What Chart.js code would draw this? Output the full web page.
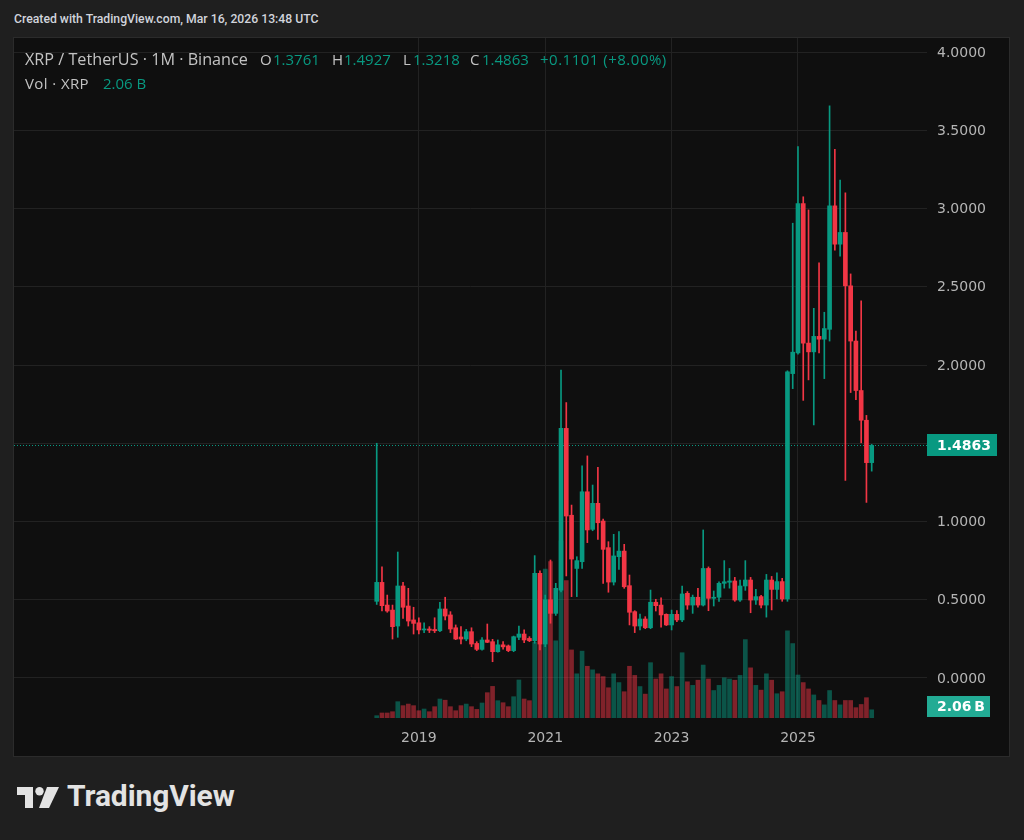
<!DOCTYPE html>
<html>
<head>
<meta charset="utf-8">
<script src="https://cdn.jsdelivr.net/npm/chart.js@4.4.1/dist/chart.umd.min.js"></script>
<style>
  body { margin:0; width:1024px; height:840px; overflow:hidden; background:#1f1f1f; font-family:Roboto, sans-serif; }
  #head { position:absolute; left:14px; top:10px; font-size:13px; font-weight:500; line-height:18px; color:#d1d4dc; transform:scaleX(0.94); transform-origin:left center; white-space:nowrap; }
  #panel { position:absolute; left:13px; top:37px; width:997px; height:720px; box-sizing:border-box; border:1px solid #2b2b2b; background:#0f0f0f; }
  #chart { position:absolute; left:14px; top:38px; }
  .lg { position:absolute; font-family:"Open Sans", sans-serif; font-size:15px; line-height:18px; color:#c3c3c3; white-space:nowrap; }
  .lg.t { font-size:16.2px; }
  .lg.v { color:#089981; }
  #logo { position:absolute; left:17px; top:787px; }
  #logoText { position:absolute; left:67px; top:778px; font-size:30px; font-weight:700; color:#e3e3e3; letter-spacing:-0.1px; }
</style>
</head>
<body>
<div id="head">Created with TradingView.com, Mar 16, 2026 13:48 UTC</div>
<div id="panel"></div>
<canvas id="chart" width="995" height="718"></canvas>

<div class="lg t" style="left:25px;top:50px">XRP / TetherUS · 1M · Binance</div>
<div class="lg" style="left:260px;top:50px">O</div><div class="lg v" style="left:273px;top:50px">1.3761</div>
<div class="lg" style="left:332px;top:50px">H</div><div class="lg v" style="left:344px;top:50px">1.4927</div>
<div class="lg" style="left:403px;top:50px">L</div><div class="lg v" style="left:413px;top:50px">1.3218</div>
<div class="lg" style="left:470px;top:50px">C</div><div class="lg v" style="left:482px;top:50px">1.4863</div>
<div class="lg v" style="left:540px;top:50px;letter-spacing:0.5px">+0.1101 (+8.00%)</div>
<div class="lg" style="left:25px;top:74px;letter-spacing:0.4px">Vol · XRP</div><div class="lg v" style="left:103px;top:74px">2.06 B</div>

<svg id="logo" width="42" height="22" viewBox="0 0 42 22">
  <path d="M0 0 H16 V21 H8 V8 H0 Z" fill="#e3e3e3"/>
  <circle cx="22.5" cy="4.2" r="4.2" fill="#e3e3e3"/>
  <path d="M30 0 H42 L32 21 H22 Z" fill="#e3e3e3"/>
</svg>
<div id="logoText">TradingView</div>

<script>
// monthly candles, XRP/USDT Binance
const months = [
  '2018-05','2018-06','2018-07','2018-08','2018-09','2018-10','2018-11','2018-12',
  '2019-01','2019-02','2019-03','2019-04','2019-05','2019-06','2019-07','2019-08','2019-09','2019-10','2019-11','2019-12',
  '2020-01','2020-02','2020-03','2020-04','2020-05','2020-06','2020-07','2020-08','2020-09','2020-10','2020-11','2020-12',
  '2021-01','2021-02','2021-03','2021-04','2021-05','2021-06','2021-07','2021-08','2021-09','2021-10','2021-11','2021-12',
  '2022-01','2022-02','2022-03','2022-04','2022-05','2022-06','2022-07','2022-08','2022-09','2022-10','2022-11','2022-12',
  '2023-01','2023-02','2023-03','2023-04','2023-05','2023-06','2023-07','2023-08','2023-09','2023-10','2023-11','2023-12',
  '2024-01','2024-02','2024-03','2024-04','2024-05','2024-06','2024-07','2024-08','2024-09','2024-10','2024-11','2024-12',
  '2025-01','2025-02','2025-03','2025-04','2025-05','2025-06','2025-07','2025-08','2025-09','2025-10','2025-11','2025-12',
  '2026-01','2026-02','2026-03'
];

const opens = [
  0.49, 0.611, 0.466, 0.434, 0.332, 0.588, 0.46, 0.371,
  0.353, 0.307, 0.313, 0.31, 0.302, 0.441, 0.403, 0.321, 0.262, 0.249, 0.296, 0.221,
  0.183, 0.243, 0.232, 0.168, 0.212, 0.205, 0.175, 0.26, 0.281, 0.253, 0.238, 0.669,
  0.217, 0.50, 0.413, 0.562, 1.595, 1.04, 0.70, 0.743, 1.19, 0.95, 1.116, 1.003,
  0.833, 0.613, 0.775, 0.811, 0.59, 0.424, 0.332, 0.377, 0.321, 0.484, 0.466, 0.407,
  0.339, 0.407, 0.371, 0.541, 0.466, 0.516, 0.466, 0.70, 0.509, 0.516, 0.605, 0.612,
  0.62, 0.498, 0.588, 0.626, 0.498, 0.52, 0.466, 0.626, 0.566, 0.616, 0.505, 1.945,
  2.077, 3.032, 2.14, 2.084, 2.183, 2.165, 2.228, 3.017, 2.772, 2.847, 2.506, 2.153,
  1.837, 1.647, 1.3761
];
const highs = [
  1.50, 0.711, 0.53, 0.466, 0.805, 0.611, 0.573, 0.452,
  0.385, 0.353, 0.328, 0.385, 0.484, 0.516, 0.424, 0.339, 0.328, 0.311, 0.321, 0.232,
  0.258, 0.345, 0.247, 0.243, 0.232, 0.211, 0.268, 0.332, 0.307, 0.264, 0.782, 0.684,
  0.53, 0.754, 0.605, 1.968, 1.76, 1.105, 0.775, 1.355, 1.419, 1.233, 1.346, 1.016,
  0.871, 0.918, 0.935, 0.854, 0.658, 0.43, 0.409, 0.392, 0.562, 0.503, 0.513, 0.41,
  0.434, 0.43, 0.588, 0.552, 0.53, 0.573, 0.946, 0.71, 0.556, 0.615, 0.75, 0.70,
  0.643, 0.626, 0.75, 0.643, 0.566, 0.528, 0.662, 0.649, 0.672, 0.637, 1.963, 2.906,
  3.396, 3.075, 2.991, 2.362, 2.653, 2.337, 3.656, 3.378, 3.181, 3.10, 2.582, 2.216,
  2.41, 1.678, 1.4927
];
const lows = [
  0.47, 0.428, 0.42, 0.249, 0.26, 0.381, 0.332, 0.281,
  0.281, 0.29, 0.29, 0.29, 0.296, 0.371, 0.29, 0.245, 0.217, 0.238, 0.200, 0.175,
  0.178, 0.226, 0.104, 0.165, 0.185, 0.168, 0.168, 0.245, 0.226, 0.232, 0.222, 0.179,
  0.20, 0.35, 0.40, 0.55, 0.652, 0.52, 0.52, 0.70, 0.865, 0.941, 0.886, 0.605,
  0.548, 0.594, 0.694, 0.573, 0.339, 0.29, 0.307, 0.315, 0.315, 0.428, 0.324, 0.335,
  0.307, 0.36, 0.36, 0.439, 0.413, 0.452, 0.46, 0.43, 0.46, 0.49, 0.574, 0.574,
  0.49, 0.49, 0.56, 0.417, 0.47, 0.447, 0.389, 0.435, 0.505, 0.49, 0.49, 1.849,
  2.07, 1.774, 1.905, 1.617, 2.077, 1.913, 2.153, 2.734, 2.696, 1.263, 1.824, 1.779,
  1.503, 1.122, 1.3218
];
const closes = [
  0.611, 0.462, 0.428, 0.328, 0.588, 0.452, 0.364, 0.349,
  0.307, 0.313, 0.305, 0.302, 0.441, 0.396, 0.313, 0.249, 0.249, 0.296, 0.217, 0.183,
  0.243, 0.228, 0.168, 0.212, 0.199, 0.175, 0.264, 0.281, 0.243, 0.238, 0.669, 0.217,
  0.50, 0.413, 0.573, 1.595, 1.035, 0.76, 0.75, 1.19, 0.946, 1.116, 0.992, 0.822,
  0.613, 0.78, 0.811, 0.583, 0.42, 0.332, 0.377, 0.321, 0.484, 0.462, 0.403, 0.339,
  0.407, 0.371, 0.537, 0.466, 0.516, 0.466, 0.70, 0.509, 0.516, 0.605, 0.615, 0.62,
  0.498, 0.588, 0.626, 0.498, 0.52, 0.466, 0.626, 0.566, 0.616, 0.505, 1.956, 2.082,
  3.032, 2.14, 2.084, 2.183, 2.165, 2.233, 3.017, 2.772, 2.847, 2.506, 2.153, 1.837,
  1.647, 1.3761, 1.4863
];
// volume in billions of XRP
const volumes = [
  0.58, 1.26, 1.26, 1.58, 4.1, 3.1, 3.5, 3.1,
  1.83, 2.26, 1.58, 2.84, 4.77, 4.47, 2.84, 1.83, 3.1, 3.5, 2.84, 2.16,
  3.77, 6.36, 7.94, 4.35, 3.84, 2.84, 5.35, 9.55, 4.77, 4.35, 19.0, 32.0,
  37.4, 39.3, 19.4, 44.5, 34.5, 17.1, 11.1, 16.8, 13.0, 12.1, 11.1, 10.4,
  7.6, 11.1, 8.9, 6.6, 13.0, 10.7, 7.9, 6.0, 13.9, 9.8, 11.1, 7.3,
  10.4, 7.9, 16.4, 9.1, 8.2, 9.5, 13.3, 9.8, 6.9, 8.2, 10.1, 9.8,
  9.5, 10.7, 19.7, 12.6, 8.2, 7.0, 11.1, 9.5, 6.1, 6.6, 21.9, 18.7,
  10.8, 8.9, 7.3, 5.8, 4.4, 3.3, 6.9, 4.4, 3.3, 4.4, 4.4, 2.6,
  3.4, 5.1, 2.06
];

const yearTicks = ['2019-01', '2021-01', '2023-01', '2025-01'];
const yearLabels = ['2019', '2021', '2023', '2025'];
const priceTicks = [0, 0.5, 1, 1.5, 2, 2.5, 3, 3.5, 4];

const GREEN = '#089981';
const RED = '#f23645';
const AXIS_FONT = { family: 'DejaVu Sans', size: 14 };

const isUp = closes.map((c, i) => c >= opens[i]);
const candleColors = isUp.map(u => u ? GREEN : RED);
const volColors = isUp.map(u => u ? 'rgba(8,153,129,0.5)' : 'rgba(242,54,69,0.5)');
const lastClose = closes[closes.length - 1];
const lastVol = volumes[volumes.length - 1];

const yearIdx = yearTicks.map(m => months.indexOf(m));

// no label overflow padding, the plot fills the canvas up to the axes
function noPad(axis) {
    axis.paddingTop = 0;
    axis.paddingBottom = 0;
    axis.paddingLeft = 0;
    axis.paddingRight = 0;
}

// last price line + axis badges
const lastPricePlugin = {
    id: 'lastPrice',
    beforeDatasetsDraw(chart) {
        const { ctx, chartArea, scales } = chart;
        const y = Math.round(scales.y.getPixelForValue(lastClose)) + 0.5;
        ctx.save();
        ctx.strokeStyle = GREEN;
        ctx.lineWidth = 1;
        ctx.setLineDash([1, 2]);
        ctx.beginPath();
        ctx.moveTo(chartArea.left, y);
        ctx.lineTo(chartArea.right, y);
        ctx.stroke();
        ctx.restore();
    },
    afterDraw(chart) {
        const { ctx, chartArea, scales } = chart;
        const x0 = chartArea.right;
        ctx.save();
        ctx.textBaseline = 'middle';
        ctx.textAlign = 'left';
        ctx.font = 'bold 14px "DejaVu Sans"';

        const yp = scales.y.getPixelForValue(lastClose);
        ctx.fillStyle = GREEN;
        ctx.fillRect(x0, Math.round(yp) - 11, 70, 22);
        ctx.fillStyle = '#ffffff';
        ctx.fillText(lastClose.toFixed(4), x0 + 10, Math.round(yp) + 1);

        let yv = scales.vol.getPixelForValue(lastVol);
        yv = Math.min(yv, chartArea.bottom - 12);
        ctx.fillStyle = '#22ab94';
        ctx.fillRect(x0, Math.round(yv) - 10, 63, 21);
        ctx.fillStyle = '#ffffff';
        ctx.fillText(lastVol.toFixed(2) + '\u2009B', x0 + 10, Math.round(yv) + 1);
        ctx.restore();
    }
};

const ctx = document.getElementById('chart').getContext('2d');
new Chart(ctx, {
    type: 'bar',
    data: {
        datasets: [
            {
                label: 'body',
                data: months.map((m, i) => ({ x: i, y: [opens[i], closes[i]] })),
                backgroundColor: candleColors,
                barThickness: 4,
                minBarLength: 1,
                yAxisID: 'y',
                order: 1
            },
            {
                label: 'wick',
                data: months.map((m, i) => ({ x: i, y: [lows[i], highs[i]] })),
                backgroundColor: candleColors,
                barThickness: 1,
                yAxisID: 'y',
                order: 2
            },
            {
                label: 'volume',
                data: months.map((m, i) => ({ x: i, y: volumes[i] })),
                backgroundColor: volColors,
                barThickness: 4,
                yAxisID: 'vol',
                order: 3
            }
        ]
    },
    options: {
        responsive: false,
        animation: false,
        devicePixelRatio: 1,
        layout: { padding: 0 },
        datasets: { bar: { grouped: false, borderWidth: 0 } },
        plugins: { legend: { display: false }, tooltip: { enabled: false } },
        scales: {
            x: {
                type: 'linear',
                min: -68.88,
                max: 104.5,
                offset: false,
                grid: { color: '#222222', drawTicks: false, offset: false },
                border: { display: false },
                afterBuildTicks: axis => { axis.ticks = yearIdx.map(v => ({ value: v })); },
                ticks: {
                    color: '#b5b5b5',
                    font: AXIS_FONT,
                    padding: 12,
                    maxRotation: 0,
                    autoSkip: false,
                    callback: v => yearLabels[yearIdx.indexOf(v)] || ''
                },
                afterFit: axis => { axis.height = 38; noPad(axis); }
            },
            y: {
                position: 'right',
                min: -0.2556,
                max: 4.0895,
                grid: { color: '#222222', drawTicks: false },
                border: { display: false },
                afterBuildTicks: axis => { axis.ticks = priceTicks.map(v => ({ value: v })); },
                ticks: {
                    color: '#b5b5b5',
                    font: AXIS_FONT,
                    padding: 10,
                    labelOffset: 1,
                    callback: v => v === 1.5 ? '' : v.toFixed(4)
                },
                afterFit: axis => { axis.width = 82; noPad(axis); }
            },
            vol: {
                display: false,
                min: 0,
                max: 170.85
            }
        }
    },
    plugins: [lastPricePlugin]
});
</script>
</body>
</html>
